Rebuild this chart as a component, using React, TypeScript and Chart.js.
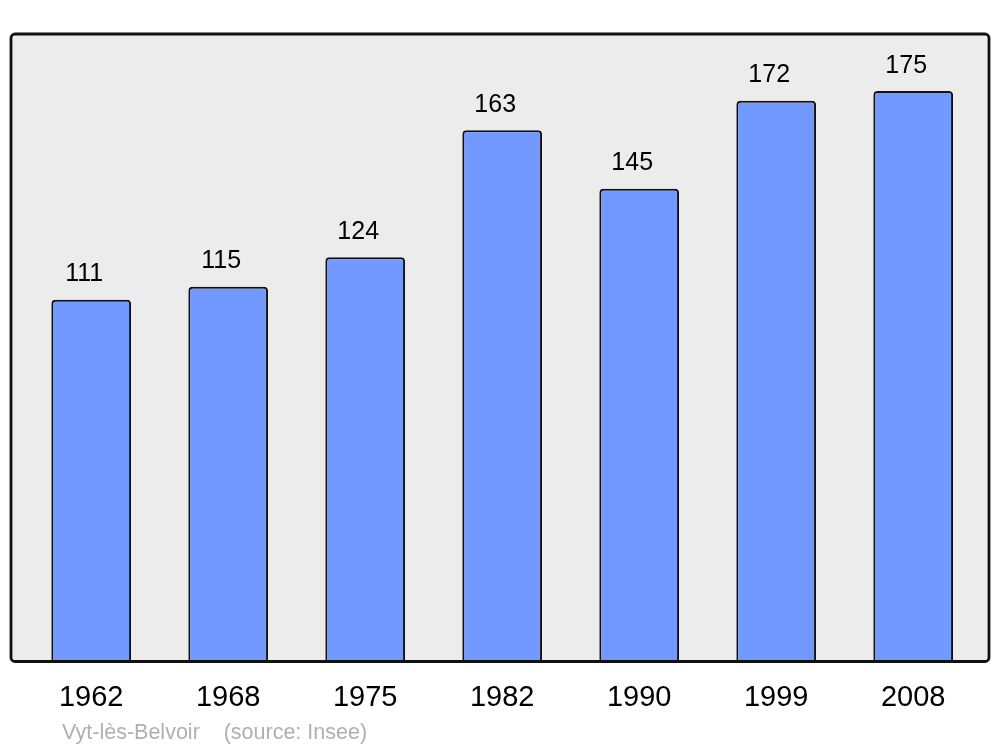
import React, { useEffect, useRef } from "react";
import { Chart, registerables } from "chart.js";

Chart.register(...registerables);

const years = ["1962", "1968", "1975", "1982", "1990", "1999", "2008"];
const population = [111, 115, 124, 163, 145, 172, 175];
const sourceText = "Vyt-lès-Belvoir    (source: Insee)";

const FONT = "'Liberation Sans', Arial, sans-serif";

const framePlugin = {
  id: "frame",
  beforeDatasetsDraw(chart: any) {
    const { ctx, chartArea } = chart;
    const x0 = chartArea.left - 11.7;
    const x1 = chartArea.right + 7.3;
    ctx.save();
    ctx.beginPath();
    ctx.roundRect(x0, chartArea.top, x1 - x0, chartArea.bottom - chartArea.top, 4);
    ctx.fillStyle = "#ececec";
    ctx.fill();
    ctx.restore();
  },
  afterDatasetsDraw(chart: any) {
    const { ctx, chartArea } = chart;
    const x0 = chartArea.left - 11.7;
    const x1 = chartArea.right + 7.3;
    const meta = chart.getDatasetMeta(0);
    ctx.save();
    ctx.fillStyle = "#000";
    ctx.font = `25px ${FONT}`;
    ctx.textAlign = "center";
    ctx.textBaseline = "alphabetic";
    meta.data.forEach((bar: any, i: number) => {
      ctx.fillText(String(population[i]), bar.x - 7, bar.y - 18.5);
    });
    ctx.beginPath();
    ctx.roundRect(x0, chartArea.top, x1 - x0, chartArea.bottom - chartArea.top, 4);
    ctx.lineWidth = 2.8;
    ctx.strokeStyle = "#111";
    ctx.stroke();
    ctx.fillStyle = "#b0b0b0";
    ctx.font = `21.5px ${FONT}`;
    ctx.textAlign = "left";
    ctx.fillText(sourceText, 62, 739);
    ctx.restore();
  },
};

export default function App() {
  const ref = useRef<HTMLCanvasElement>(null);
  useEffect(() => {
    document.body.style.margin = "0";
    const chart = new Chart(ref.current!, {
      type: "bar",
      data: {
        labels: years,
        datasets: [
          {
            data: population,
            backgroundColor: "#7299ff",
            borderColor: "#111",
            borderWidth: 2,
            borderRadius: 4,
            borderSkipped: "start",
            barPercentage: 0.582,
            categoryPercentage: 1,
          },
        ],
      },
      options: {
        responsive: false,
        animation: false,
        layout: { padding: { left: 22.7, right: 18.3, top: 34, bottom: 11.7 } },
        plugins: { legend: { display: false }, tooltip: { enabled: false } },
        scales: {
          x: {
            grid: { display: false, drawTicks: false },
            border: { display: false },
            ticks: { color: "#000", font: { size: 29, family: FONT }, padding: 19.5 },
          },
          y: { display: false, min: 0, max: 192.5 },
        },
      },
      plugins: [framePlugin],
    });
    return () => chart.destroy();
  }, []);
  return <canvas ref={ref} width={1000} height={747} style={{ display: "block" }} />;
}
